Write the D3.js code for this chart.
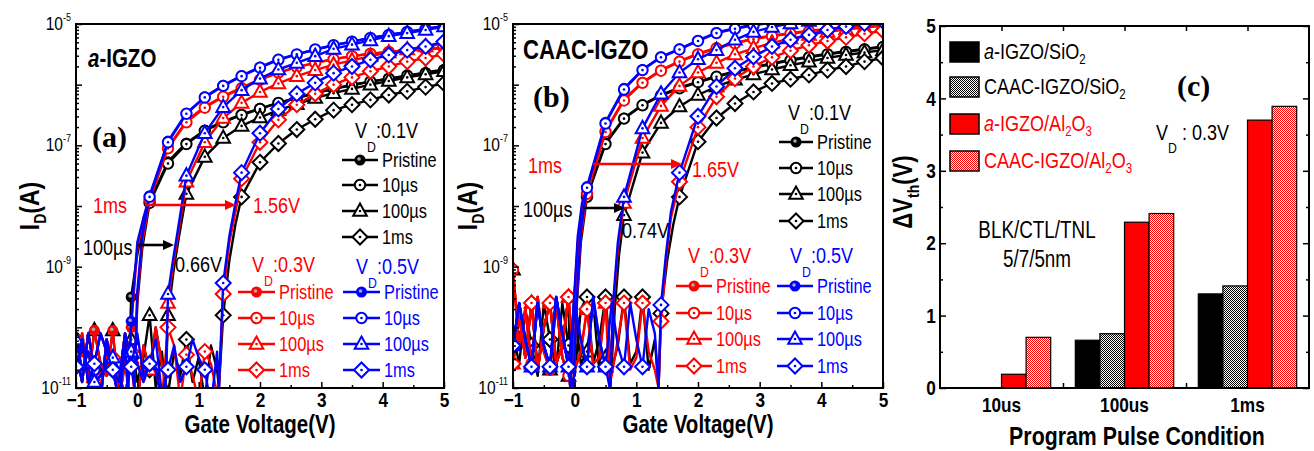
<!DOCTYPE html>
<html>
<head>
<meta charset="utf-8">
<script src="https://cdn.jsdelivr.net/npm/d3@7"></script>
<style>
  body { margin: 0; background: #fff; }
</style>
</head>
<body>
<svg id="fig" width="1314" height="451"></svg>
<script>
// ---- data: transfer curves, log10(I_D) ----
var vgNoise  = [-1.0,-0.9,-0.8,-0.7,-0.6,-0.5,-0.4,-0.3,-0.2,-0.1,0.0,0.1,0.2,0.3,0.4,0.5,0.6,0.7,0.8,0.9,1.0,1.1,1.2,1.3];
var vgFrom02 = [0.2,0.5,0.8,1.1,1.4,1.7,2.0,2.3,2.6,2.9,3.2,3.5,3.8,4.1,4.4,4.7,5.0];
var vgFrom08 = [0.8,1.1,1.4,1.7,2.0,2.3,2.6,2.9,3.2,3.5,3.8,4.1,4.4,4.7,5.0];
var vgFrom17 = [1.7,2.0,2.3,2.6,2.9,3.2,3.5,3.8,4.1,4.4,4.7,5.0];

// off-state noise, panel (a)
var nA0 = [-10.4,-10.9,-10.1,-10.7,-11.2,-10.2,-10.7,-10.9,-10.1,-10.5,-11.3,-10.3,-10.7,-10.0,-10.6,-11.1,-10.4,-10.8,-10.2,-10.9,-10.5,-11.2,-10.3,-10.7];
var nA1 = [-10.6,-10.1,-10.9,-10.05,-10.6,-10.8,-10.05,-11.2,-10.6,-10.2,-10.9,-10.5,-9.8,-11.0,-10.4,-10.2,-10.8,-10.3,-11.1,-10.5,-10.1,-10.7,-10.9,-10.2];
var nA2 = [-10.65,-10.2,-10.9,-10.6,-10.1,-10.4,-10.7,-11.2,-10.3,-10.65,-10.1,-10.8,-10.6,-10.2,-11.1,-10.7,-10.3,-10.9,-10.65,-10.2,-10.5,-10.7,-11.3,-10.4];
var nA3 = [-10.2,-10.7,-10.4,-10.9,-10.8,-10.6,-10.5,-10.7,-11.2,-10.4,-10.6,-10.9,-10.6,-10.7,-11.2,-10.0,-10.3,-11.2,-10.45,-10.8,-11.2,-10.4,-10.6,-11.1];
// off-state noise, panel (b)
var nB0 = [-10.1,-10.6,-9.7,-10.3,-10.8,-9.6,-10.2,-10.7,-9.6,-10.3,-10.8,-9.7,-9.5,-10.6,-10.2,-9.5,-10.7,-10.3,-9.5,-10.6,-10.4,-9.5,-10.7,-10.2];
var nB1 = [-10.3,-9.6,-10.2,-10.65,-9.6,-10.3,-10.65,-9.5,-10.1,-10.65,-9.6,-10.2,-10.65,-9.5,-10.2,-10.65,-9.6,-10.3,-10.65,-9.6,-10.2,-10.65,-9.7,-10.1];
var nB2 = [-9.05,-10.3,-9.7,-10.6,-9.5,-10.4,-10.7,-9.6,-10.5,-10.8,-9.7,-10.6,-10.4,-9.6,-10.7,-10.5,-9.6,-10.8,-10.5,-9.7,-10.6,-10.3,-9.8,-10.5];
var nB3 = [-10.6,-9.8,-10.5,-9.6,-10.7,-10.0,-9.6,-10.6,-10.3,-9.5,-10.7,-10.4,-9.7,-10.6,-10.5,-9.6,-10.8,-10.2,-9.6,-10.7,-10.5,-9.6,-10.4,-10.7];

// panel (a) a-IGZO : rising edges [Vg, log I]
var aRiseKP = [[-0.15,-11.0],[-0.1,-9.5],[0.0,-8.8],[0.1,-8.3]];
var aRiseRP = [[-0.15,-11.0],[-0.1,-10.0],[0.0,-8.7],[0.1,-8.2]];
var aRiseBP = [[-0.15,-11.0],[-0.1,-9.9],[0.0,-8.6],[0.1,-8.2]];
var aRiseK10 = [[-0.05,-11.0],[0.0,-9.6],[0.08,-8.7]];
var aRiseR10 = [[-0.05,-11.0],[0.0,-9.5],[0.08,-8.6]];
var aRiseB10 = [[-0.05,-11.0],[0.0,-9.4],[0.08,-8.5]];
var aRiseK100 = [[0.46,-11.0],[0.5,-9.8],[0.6,-9.0],[0.68,-8.5]];
var aRiseR100 = [[0.46,-11.0],[0.5,-9.6],[0.58,-9.0],[0.66,-8.5]];
var aRiseB100 = [[0.46,-11.0],[0.5,-9.45],[0.58,-8.9],[0.66,-8.4]];
var aRiseK1m = [[1.33,-11.0],[1.4,-9.8],[1.5,-8.9],[1.6,-8.3]];
var aRiseR1m = [[1.33,-11.0],[1.4,-9.45],[1.5,-8.6],[1.6,-8.1]];
var aRiseB1m = [[1.33,-11.0],[1.4,-9.27],[1.5,-8.5],[1.6,-7.95]];
// panel (a) on-state
var aKP  = [-7.92,-7.27,-6.96,-6.75,-6.61,-6.49,-6.39,-6.3,-6.22,-6.14,-6.07,-6.0,-5.95,-5.9,-5.85,-5.8,-5.75];
var aK10 = [-7.95,-7.3,-6.98,-6.76,-6.62,-6.5,-6.4,-6.3,-6.22,-6.14,-6.07,-6.01,-5.95,-5.9,-5.85,-5.81,-5.76];
var aRP  = [-7.88,-7.03,-6.6,-6.36,-6.19,-6.05,-5.91,-5.8,-5.71,-5.64,-5.58,-5.53,-5.49,-5.46,-5.43,-5.41,-5.39];
var aR10 = [-7.9,-7.05,-6.62,-6.38,-6.2,-6.06,-5.92,-5.8,-5.71,-5.64,-5.58,-5.53,-5.49,-5.46,-5.44,-5.42,-5.4];
var aBP  = [-7.83,-6.93,-6.47,-6.2,-6.01,-5.85,-5.71,-5.58,-5.5,-5.42,-5.35,-5.29,-5.23,-5.18,-5.13,-5.08,-5.03];
var aB10 = [-7.85,-6.95,-6.48,-6.21,-6.02,-5.86,-5.72,-5.59,-5.5,-5.42,-5.35,-5.29,-5.23,-5.18,-5.13,-5.08,-5.03];
var aK100 = [-7.8,-7.19,-6.88,-6.68,-6.54,-6.42,-6.32,-6.22,-6.14,-6.07,-6.0,-5.94,-5.88,-5.83,-5.78];
var aR100 = [-7.6,-6.95,-6.55,-6.3,-6.12,-5.98,-5.86,-5.76,-5.67,-5.6,-5.53,-5.47,-5.42,-5.37,-5.32];
var aB100 = [-7.5,-6.8,-6.37,-6.09,-5.9,-5.75,-5.64,-5.53,-5.41,-5.34,-5.27,-5.2,-5.15,-5.1,-5.04];
var aK1m = [-7.85,-7.28,-6.97,-6.74,-6.57,-6.42,-6.33,-6.25,-6.17,-6.11,-6.04,-5.98];
var aR1m = [-7.55,-6.95,-6.58,-6.33,-6.15,-6.0,-5.88,-5.78,-5.7,-5.62,-5.56,-5.5];
var aB1m = [-7.45,-6.8,-6.4,-6.15,-5.97,-5.81,-5.7,-5.59,-5.51,-5.43,-5.37,-5.29];

// panel (b) CAAC-IGZO : rising edges
var bRiseKP = [[-0.07,-11.0],[-0.02,-9.7],[0.05,-8.7],[0.12,-8.1]];
var bRiseRP = [[-0.07,-11.0],[-0.02,-9.8],[0.05,-8.6],[0.12,-8.0]];
var bRiseBP = [[-0.07,-11.0],[-0.02,-9.7],[0.05,-8.5],[0.12,-7.95]];
var bRiseK10 = [[-0.02,-11.0],[0.03,-9.7],[0.1,-8.6]];
var bRiseR10 = [[-0.02,-11.0],[0.03,-9.6],[0.1,-8.5]];
var bRiseB10 = [[-0.02,-11.0],[0.03,-9.6],[0.1,-8.4]];
var bRiseK100 = [[0.58,-11.0],[0.65,-9.7],[0.72,-8.8]];
var bRiseR100 = [[0.57,-11.0],[0.63,-9.6],[0.7,-8.7]];
var bRiseB100 = [[0.57,-11.0],[0.63,-9.5],[0.7,-8.6]];
var bRiseK1m = [[1.36,-11.0],[1.4,-9.77],[1.5,-8.9],[1.6,-8.3]];
var bRiseR1m = [[1.36,-11.0],[1.4,-9.9],[1.48,-8.9],[1.56,-8.2]];
var bRiseB1m = [[1.36,-11.0],[1.4,-9.63],[1.48,-8.8],[1.56,-8.1]];
// panel (b) on-state
var bKP  = [-7.83,-6.96,-6.55,-6.33,-6.17,-6.05,-5.95,-5.86,-5.78,-5.71,-5.65,-5.59,-5.54,-5.49,-5.45,-5.41,-5.37];
var bK10 = [-7.85,-6.98,-6.56,-6.34,-6.18,-6.06,-5.96,-5.87,-5.79,-5.72,-5.66,-5.6,-5.55,-5.5,-5.46,-5.42,-5.38];
var bRP  = [-7.78,-6.76,-6.24,-5.96,-5.76,-5.61,-5.49,-5.39,-5.31,-5.24,-5.19,-5.15,-5.11,-5.08,-5.05,-5.03,-5.01];
var bR10 = [-7.8,-6.78,-6.26,-5.97,-5.77,-5.62,-5.5,-5.4,-5.32,-5.25,-5.2,-5.16,-5.12,-5.09,-5.06,-5.04,-5.02];
var bBP  = [-7.68,-6.62,-6.06,-5.75,-5.54,-5.41,-5.27,-5.14,-5.07,-5.01,-4.97,-4.94,-4.92,-4.9,-4.88,-4.86,-4.85];
var bB10 = [-7.7,-6.64,-6.08,-5.76,-5.55,-5.42,-5.28,-5.15,-5.08,-5.02,-4.98,-4.95,-4.93,-4.9,-4.88,-4.86,-4.85];
var bK100 = [-8.15,-7.12,-6.63,-6.36,-6.17,-6.03,-5.92,-5.83,-5.75,-5.68,-5.62,-5.56,-5.51,-5.47,-5.43];
var bR100 = [-7.95,-6.88,-6.35,-6.02,-5.8,-5.64,-5.5,-5.4,-5.31,-5.24,-5.18,-5.13,-5.09,-5.06,-5.03];
var bB100 = [-7.85,-6.72,-6.15,-5.8,-5.58,-5.43,-5.26,-5.13,-5.05,-4.99,-4.95,-4.92,-4.9,-4.88,-4.86];
var bK1m = [-7.85,-6.94,-6.55,-6.31,-6.12,-5.98,-5.91,-5.84,-5.76,-5.7,-5.62,-5.56];
var bR1m = [-7.6,-6.7,-6.2,-5.9,-5.7,-5.55,-5.44,-5.35,-5.28,-5.22,-5.16,-5.11];
var bB1m = [-7.45,-6.52,-6.03,-5.73,-5.54,-5.37,-5.26,-5.18,-5.1,-5.04,-4.99,-4.95];

// panel (c) threshold shift
var pulseCats = ["10us", "100us", "1ms"];
var barSeries = ["a-IGZO/SiO2", "CAAC-IGZO/SiO2", "a-IGZO/Al2O3", "CAAC-IGZO/Al2O3"];
var dvA_SiO2    = [0, 0.66, 1.30];
var dvCAAC_SiO2 = [0, 0.75, 1.41];
var dvA_Al2O3   = [0.19, 2.29, 3.70];
var dvCAAC_Al2O3 = [0.70, 2.41, 3.89];

var legendConds = ["Pristine", "10\u00b5s", "100\u00b5s", "1ms"];

// ---- drawing ----
var svg = d3.select("#fig");
var SANS = '"Liberation Sans",Arial,sans-serif';
var SERIF = '"Liberation Serif","Times New Roman",serif';
var SQUEEZE = 0.82;   // no narrow face installed: squeeze Liberation Sans to Arial Narrow width
var BLACK = "#000000", RED = "#ff0000", BLUE = "#0000ff";
var defs = svg.append("defs");

function addText(g, x, y, parts, o) {
    o = o || {};
    var tf = "translate(" + x + "," + y + ")";
    if (o.rotate) tf += " rotate(" + o.rotate + ")";
    if (o.family !== SERIF) tf += " scale(" + SQUEEZE + ",1)";
    var t = g.append("text")
        .attr("transform", tf)
        .attr("font-family", o.family || SANS)
        .attr("font-size", o.size || 20)
        .attr("font-weight", o.weight || "normal")
        .attr("fill", o.color || BLACK)
        .attr("text-anchor", o.anchor || "start");
    parts.forEach(function(p) {
        if (typeof p === "string") p = { t: p };
        var s = t.append("tspan").text(p.t);
        if (p.dy) s.attr("dy", p.dy);
        if (p.size) s.attr("font-size", p.size);
        if (p.italic) s.attr("font-style", "italic");
    });
    return t;
} // addText()

function styleTicks(sel, size) {
    sel.selectAll("text")
        .attr("font-family", SANS).attr("font-size", size)
        .attr("font-weight", "bold").attr("fill", BLACK)
        .attr("transform", "scale(" + SQUEEZE + ",1)");
}

function drawMarker(g, kind, color, cx, cy) {
    var m = g.append("g").attr("transform", "translate(" + cx + "," + cy + ")");
    if (kind === "P") {
        m.append("circle").attr("r", 5.5).attr("fill", color);
        m.append("circle").attr("r", 1.8).attr("cx", -1).attr("cy", -1).attr("fill", "#aaa");
        return;
    }
    if (kind === "10") {
        m.append("circle").attr("r", 5.2);
    } else if (kind === "100") {
        m.append("path").attr("d", "M0,-7.5L6.8,4.8L-6.8,4.8Z");
    } else {
        m.append("path").attr("d", "M0,-7.5L7.5,0L0,7.5L-7.5,0Z");
    }
    m.selectAll("circle,path")
        .attr("fill", "#fff").attr("stroke", color).attr("stroke-width", 2);
    m.append("circle").attr("r", 1.3).attr("fill", color);
} // drawMarker()

function onGrid(v) {
    var k = (v + 1) / 0.3;
    return Math.abs(k - Math.round(k)) < 0.02;
}

function buildCurve(noise, rise, vgOn, on) {
    var start = rise[0][0];
    var pts = [];
    vgNoise.forEach(function(v, i) { if (v < start - 0.005) pts.push([v, noise[i]]); });
    rise.forEach(function(p) { pts.push(p); });
    vgOn.forEach(function(v, i) { pts.push([v, on[i]]); });
    return pts;
}

function arrow(g, x1, x2, y, color) {
    g.append("line").attr("x1", x1).attr("x2", x2 - 9).attr("y1", y).attr("y2", y)
        .attr("stroke", color).attr("stroke-width", 2.6);
    g.append("path").attr("d", "M" + x2 + "," + y + "L" + (x2 - 11) + "," + (y - 5) + "L" + (x2 - 11) + "," + (y + 5) + "Z")
        .attr("fill", color);
}

function transferPanel(cfg) {
    var top = 24, bottom = 388;
    var x = d3.scaleLinear().domain([-1, 5]).range([cfg.left, cfg.right]);
    var y = d3.scaleLog().domain([1e-11, 1e-5]).range([bottom, top]);
    var g = svg.append("g").attr("class", "panel-" + cfg.id);

    defs.append("clipPath").attr("id", "clip-" + cfg.id)
      .append("rect")
        .attr("x", cfg.left).attr("y", top)
        .attr("width", cfg.right - cfg.left).attr("height", bottom - top);

    var plot = g.append("g").attr("clip-path", "url(#clip-" + cfg.id + ")");
    var line = d3.line()
        .x(function(d) { return x(d[0]); })
        .y(function(d) { return y(Math.pow(10, d[1])); });

    cfg.curves.forEach(function(c) {
        var pts = buildCurve(c.noise, c.rise, c.vg, c.on);
        plot.append("path").datum(pts)
            .attr("d", line)
            .attr("fill", "none")
            .attr("stroke", c.color)
            .attr("stroke-width", 2.4)
            .attr("stroke-linejoin", "round");
        pts.filter(function(d) { return onGrid(d[0]); }).forEach(function(d) {
            drawMarker(plot, c.kind, c.color, x(d[0]), y(Math.pow(10, d[1])));
        });
    });

    // axes
    var decades = [1e-11, 1e-10, 1e-9, 1e-8, 1e-7, 1e-6, 1e-5];
    var minors = [];
    for (var e = -11; e < -5; e++)
        for (var m = 2; m < 10; m++) minors.push(m * Math.pow(10, e));

    g.append("g").attr("transform", "translate(" + cfg.left + ",0)")
        .call(d3.axisLeft(y).tickValues(decades).tickSizeInner(-6).tickSizeOuter(0).tickFormat(""))
        .call(function(s) { s.select(".domain").remove(); });
    g.append("g").attr("transform", "translate(" + cfg.left + ",0)")
        .call(d3.axisLeft(y).tickValues(minors).tickSizeInner(-3).tickSizeOuter(0).tickFormat(""))
        .call(function(s) { s.select(".domain").remove(); });
    g.selectAll(".tick line").attr("stroke-width", 1.5);

    [-11, -9, -7, -5].forEach(function(ex) {
        addText(g, cfg.left - 5, y(Math.pow(10, ex)) + 6,
            ["10", { t: String(ex), dy: -9, size: 11 }],
            { size: 19, anchor: "end" });
    });

    var xa = g.append("g").attr("transform", "translate(0," + bottom + ")")
        .call(d3.axisBottom(x).tickValues([-1, 0, 1, 2, 3, 4, 5])
            .tickSizeInner(-6).tickSizeOuter(0).tickPadding(4)
            .tickFormat(d3.format("d")));
    xa.select(".domain").remove();
    styleTicks(xa, 21);
    xa.selectAll(".tick line").attr("stroke-width", 1.5);
    g.append("g").attr("transform", "translate(0," + bottom + ")")
        .call(d3.axisBottom(x).tickValues([-0.5, 0.5, 1.5, 2.5, 3.5, 4.5])
            .tickSizeInner(-3).tickSizeOuter(0).tickFormat(""))
        .call(function(s) { s.select(".domain").remove(); s.selectAll("line").attr("stroke-width", 1.5); });

    g.append("rect")
        .attr("x", cfg.left).attr("y", top)
        .attr("width", cfg.right - cfg.left).attr("height", bottom - top)
        .attr("fill", "none").attr("stroke", BLACK).attr("stroke-width", 2);

    // axis titles
    addText(g, cfg.yTitleX, 206, ["I", { t: "D", dy: 7, size: 17 }, { t: "(A)", dy: -7 }],
        { size: 28, weight: "bold", anchor: "middle", rotate: -90 });
    addText(g, (cfg.left + cfg.right) / 2, 433, ["Gate Voltage(V)"],
        { size: 25, weight: "bold", anchor: "middle" });

    // legends
    cfg.legends.forEach(function(L) {
        addText(g, L.hx, L.hy, ["V", { t: "D", dy: 14, size: 15 }, { t: L.title, dy: -14 }],
            { size: 22, color: L.color });
        legendConds.forEach(function(name, i) {
            var ry = L.rows[i];
            g.append("line").attr("x1", L.x1).attr("x2", L.x2).attr("y1", ry).attr("y2", ry)
                .attr("stroke", L.color).attr("stroke-width", 2.5);
            drawMarker(g, ["P", "10", "100", "1m"][i], L.color, (L.x1 + L.x2) / 2, ry);
            addText(g, L.x2 + 4, ry + 7, [name], { size: 20, color: L.color });
        });
    });

    return { g: g, x: x, y: y };
} // transferPanel()

function curveSet(noises, rises, ons) {
    var kinds = ["P", "10", "100", "1m"];
    var vgs = [vgFrom02, vgFrom02, vgFrom08, vgFrom17];
    var colors = [BLACK, RED, BLUE];
    var out = [];
    colors.forEach(function(col, ci) {
        kinds.forEach(function(k, ki) {
            out.push({ color: col, kind: k, noise: noises[ci][ki], rise: rises[ci][ki], vg: vgs[ki], on: ons[ci][ki] });
        });
    });
    return out;
}

// ---- panel (a)
var pa = transferPanel({
    id: "a", left: 76, right: 444, yTitleX: 39,
    curves: curveSet(
        [[nA0, nA3, nA1, nA0], [nA1, nA2, nA0, nA3], [nA2, nA0, nA3, nA2]],
        [[aRiseKP, aRiseK10, aRiseK100, aRiseK1m], [aRiseRP, aRiseR10, aRiseR100, aRiseR1m], [aRiseBP, aRiseB10, aRiseB100, aRiseB1m]],
        [[aKP, aK10, aK100, aK1m], [aRP, aR10, aR100, aR1m], [aBP, aB10, aB100, aB1m]]),
    legends: [
        { color: BLACK, title: ":0.1V", hx: 355, hy: 138, x1: 342, x2: 378, rows: [160, 185, 211, 237] },
        { color: RED, title: ":0.3V", hx: 252, hy: 272, x1: 238, x2: 275, rows: [292, 318, 344, 370] },
        { color: BLUE, title: ":0.5V", hx: 356, hy: 274, x1: 343, x2: 380, rows: [292, 318, 344, 370] }
    ]
});
addText(pa.g, 88, 67, [{ t: "a", italic: true }, "-IGZO"], { size: 25, weight: "bold" });
addText(pa.g, 92, 147, ["(a)"], { size: 30, weight: "bold", family: SERIF });
addText(pa.g, 93, 213, ["1ms"], { size: 22, color: RED });
arrow(pa.g, 145, 236, 205, RED);
addText(pa.g, 253, 213, ["1.56V"], { size: 22, color: RED });
addText(pa.g, 83, 255, ["100\u00b5s"], { size: 22 });
arrow(pa.g, 138, 174, 245, BLACK);
addText(pa.g, 175, 272, ["0.66V"], { size: 22 });

// ---- panel (b)
var pb = transferPanel({
    id: "b", left: 513, right: 883, yTitleX: 477,
    curves: curveSet(
        [[nB3, nB3, nB2, nB0], [nB2, nB2, nB3, nB3], [nB1, nB1, nB1, nB1]],
        [[bRiseKP, bRiseK10, bRiseK100, bRiseK1m], [bRiseRP, bRiseR10, bRiseR100, bRiseR1m], [bRiseBP, bRiseB10, bRiseB100, bRiseB1m]],
        [[bKP, bK10, bK100, bK1m], [bRP, bR10, bR100, bR1m], [bBP, bB10, bB100, bB1m]]),
    legends: [
        { color: BLACK, title: ":0.1V", hx: 788, hy: 120, x1: 779, x2: 813, rows: [142, 168, 194, 221] },
        { color: RED, title: ":0.3V", hx: 688, hy: 263, x1: 676, x2: 712, rows: [286, 313, 339, 366] },
        { color: BLUE, title: ":0.5V", hx: 790, hy: 263, x1: 777, x2: 813, rows: [286, 313, 339, 366] }
    ]
});
addText(pb.g, 523, 59, ["CAAC-IGZO"], { size: 27, weight: "bold" });
addText(pb.g, 533, 107, ["(b)"], { size: 30, weight: "bold", family: SERIF });
addText(pb.g, 528, 173, ["1ms"], { size: 22, color: RED });
arrow(pb.g, 593, 682, 164, RED);
addText(pb.g, 692, 177, ["1.65V"], { size: 22, color: RED });
addText(pb.g, 523, 217, ["100\u00b5s"], { size: 22 });
arrow(pb.g, 583, 625, 208, BLACK);
addText(pb.g, 622, 238, ["0.74V"], { size: 22 });

// ---- panel (c): bar chart
(function() {
    var left = 940, right = 1309, top = 26, bottom = 388;
    var g = svg.append("g").attr("class", "panel-c");

    function checker(id, color) {
        var p = defs.append("pattern").attr("id", id)
            .attr("width", 2).attr("height", 2).attr("patternUnits", "userSpaceOnUse");
        p.append("rect").attr("width", 2).attr("height", 2).attr("fill", "#fff");
        p.append("rect").attr("width", 1).attr("height", 1).attr("fill", color);
        p.append("rect").attr("x", 1).attr("y", 1).attr("width", 1).attr("height", 1).attr("fill", color);
    }
    checker("pat-gray", "#000");
    checker("pat-red", RED);
    var fills = [BLACK, "url(#pat-gray)", RED, "url(#pat-red)"];
    var values = [dvA_SiO2, dvCAAC_SiO2, dvA_Al2O3, dvCAAC_Al2O3];

    var x = d3.scaleBand().domain(pulseCats).range([left, right]).paddingInner(0.2).paddingOuter(0.1);
    var xs = d3.scaleBand().domain(barSeries).range([0, x.bandwidth()]);
    var y = d3.scaleLinear().domain([0, 5]).range([bottom, top]);

    pulseCats.forEach(function(cat, ci) {
        barSeries.forEach(function(s, si) {
            var v = values[si][ci];
            if (v <= 0) return;
            g.append("rect")
                .attr("x", x(cat) + xs(s)).attr("width", xs.bandwidth())
                .attr("y", y(v)).attr("height", y(0) - y(v))
                .attr("fill", fills[si]).attr("stroke", BLACK).attr("stroke-width", 1.2);
        });
    });

    function clean(s) { s.select(".domain").remove(); s.selectAll("line").attr("stroke-width", 1.5); }
    var ya = g.append("g").attr("transform", "translate(" + left + ",0)")
        .call(d3.axisLeft(y).ticks(5).tickSizeInner(-6).tickSizeOuter(0).tickPadding(5).tickFormat(d3.format("d")))
        .call(clean);
    styleTicks(ya, 21);
    g.append("g").attr("transform", "translate(" + left + ",0)")
        .call(d3.axisLeft(y).tickValues([0.5, 1.5, 2.5, 3.5, 4.5]).tickSizeInner(-3).tickSizeOuter(0).tickFormat(""))
        .call(clean);
    g.append("g").attr("transform", "translate(" + right + ",0)")
        .call(d3.axisRight(y).ticks(5).tickSizeInner(-6).tickSizeOuter(0).tickFormat(""))
        .call(clean);
    g.append("g").attr("transform", "translate(" + right + ",0)")
        .call(d3.axisRight(y).tickValues([0.5, 1.5, 2.5, 3.5, 4.5]).tickSizeInner(-3).tickSizeOuter(0).tickFormat(""))
        .call(clean);

    var pos = d3.scaleLinear().domain([0.5, 3.5]).range([left, right]);
    g.append("g").attr("transform", "translate(0," + top + ")")
        .call(d3.axisTop(pos).tickValues([1, 1.5, 2, 2.5, 3]).tickSizeInner(-5).tickSizeOuter(0).tickFormat(""))
        .call(clean);
    g.append("g").attr("transform", "translate(0," + bottom + ")")
        .call(d3.axisBottom(pos).tickValues([1.5, 2.5]).tickSizeInner(-5).tickSizeOuter(0).tickFormat(""))
        .call(clean);
    var xa = g.append("g").attr("transform", "translate(0," + bottom + ")")
        .call(d3.axisBottom(x).tickSize(0).tickPadding(9))
        .call(function(s) { s.select(".domain").remove(); });
    styleTicks(xa, 21);

    g.append("rect").attr("x", left).attr("y", top)
        .attr("width", right - left).attr("height", bottom - top)
        .attr("fill", "none").attr("stroke", BLACK).attr("stroke-width", 2);

    addText(g, 912, 192, ["\u0394V", { t: "th", dy: 7, size: 17 }, { t: "(V)", dy: -7 }],
        { size: 27, weight: "bold", anchor: "middle", rotate: -90 });
    addText(g, 1137, 445, ["Program Pulse Condition"], { size: 26, weight: "bold", anchor: "middle" });

    // legend
    var labels = [
        [{ t: "a", italic: true }, "-IGZO/SiO", { t: "2", dy: 5, size: 14 }],
        ["CAAC-IGZO/SiO", { t: "2", dy: 5, size: 14 }],
        [{ t: "a", italic: true }, "-IGZO/Al", { t: "2", dy: 5, size: 14 }, { t: "O", dy: -5 }, { t: "3", dy: 5, size: 14 }],
        ["CAAC-IGZO/Al", { t: "2", dy: 5, size: 14 }, { t: "O", dy: -5 }, { t: "3", dy: 5, size: 14 }]
    ];
    var rows = [52, 87, 124, 161];
    var lcol = [BLACK, BLACK, RED, RED];
    rows.forEach(function(ry, i) {
        g.append("rect").attr("x", 950).attr("y", ry - 10).attr("width", 29).attr("height", 20)
            .attr("fill", fills[i]).attr("stroke", BLACK).attr("stroke-width", 1.5);
        addText(g, 984, ry + 7, labels[i], { size: 22, color: lcol[i] });
    });

    addText(g, 1177, 96, ["(c)"], { size: 30, weight: "bold", family: SERIF });
    addText(g, 1156, 140, ["V", { t: "D", dy: 13, size: 15 }, { t: " : 0.3V", dy: -13 }], { size: 22 });
    addText(g, 1037, 238, ["BLK/CTL/TNL"], { size: 23, anchor: "middle" });
    addText(g, 1037, 267, ["5/7/5nm"], { size: 23, anchor: "middle" });
})();
</script>
</body>
</html>
